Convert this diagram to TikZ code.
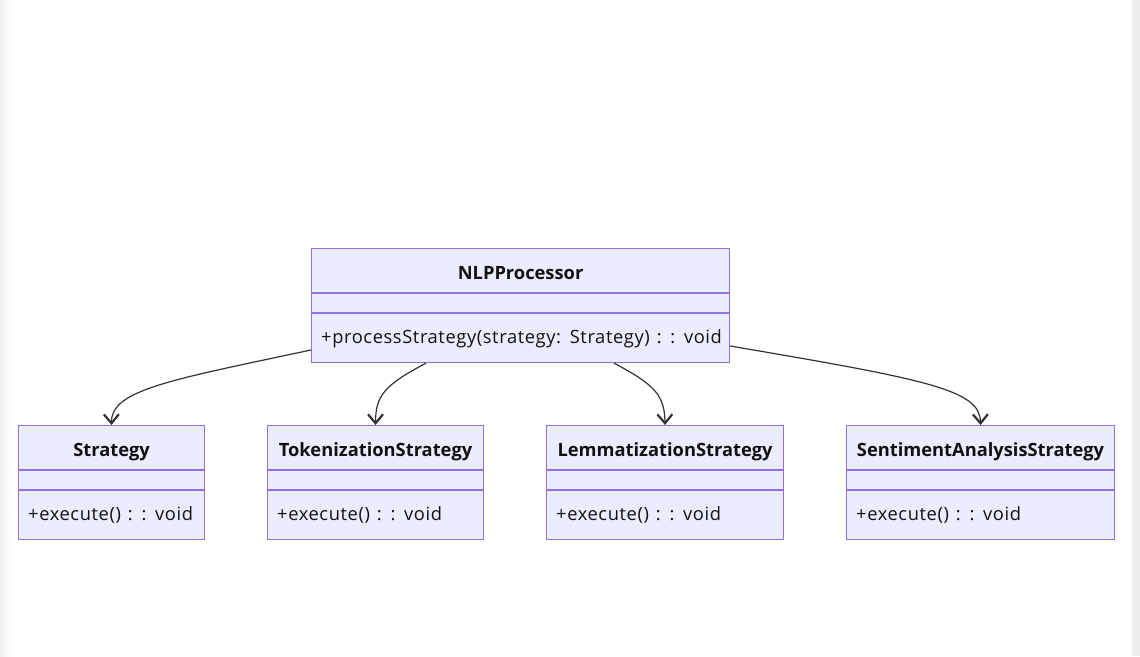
\documentclass[tikz,border=0pt]{standalone}
\usepackage{fontspec}
\setmainfont{Open Sans}
\usetikzlibrary{arrows.meta}
\definecolor{boxfill}{HTML}{ECECFF}
\definecolor{boxline}{HTML}{9370DB}
\definecolor{edgecol}{HTML}{333333}
\definecolor{txtcol}{HTML}{111111}
\newfontfamily\methfont[LetterSpace=3.3, WordSpace={1.3,1,1}]{Open Sans}
\tikzset{
  classbox/.style={draw=boxline, fill=boxfill, line width=1.1pt, inner sep=0pt, anchor=north west, minimum height=114pt},
  divline/.style={draw=boxline, line width=1.1pt},
  titletext/.style={font=\fontsize{18.3}{22}\selectfont\bfseries, text=txtcol, inner sep=0pt, anchor=base},
  methtext/.style={font=\methfont\fontsize{18.3}{22}\selectfont, text=txtcol, inner sep=0pt, anchor=base west},
  conn/.style={draw=edgecol, line width=1.2pt, -{Straight Barb[length=9pt,width=15pt,line width=2.2pt]}}
}
\newcommand{\umlclassbox}[6]{%
  \node[classbox, minimum width=#4pt] (#1) at (#2,#3) {};
  \draw[divline] ([yshift=-45pt]#1.north west) -- ([yshift=-45pt]#1.north east);
  \draw[divline] ([yshift=-65pt]#1.north west) -- ([yshift=-65pt]#1.north east);
  \node[titletext] (#1-title) at ([yshift=-31pt]#1.north) {#5};
  \node[methtext] (#1-meth) at ([xshift=10pt,yshift=-95.5pt]#1.north west) {#6};
}
\begin{document}
\begin{tikzpicture}[x=1pt,y=-1pt]
  \useasboundingbox (0,0) rectangle (1140,656);
  \fill[white] (0,0) rectangle (1140,656);
  \shade[left color=black!6, right color=white] (0,0) rectangle (12,656);
  \fill[black!7] (1132,0) rectangle (1140,656);

  \umlclassbox{nlp}{311}{248}{418}{NLPProcessor}{+processStrategy(strategy: Strategy) : : void}
  \umlclassbox{strat}{18}{425}{186}{Strategy}{+execute() : : void}
  \umlclassbox{tok}{267}{425}{216}{TokenizationStrategy}{+execute() : : void}
  \umlclassbox{lem}{546}{425}{237}{LemmatizationStrategy}{+execute() : : void}
  \umlclassbox{sent}{846}{425}{268}{SentimentAnalysisStrategy}{+execute() : : void}

  \draw[conn] ([yshift=-102pt]nlp.north west) .. controls (170,380) and (111,390) .. (strat.north);
  \draw[conn] ([xshift=115pt]nlp.south west) .. controls (385,385) and (375.5,395) .. (tok.north);
  \draw[conn] ([xshift=303pt]nlp.south west) .. controls (655,385) and (664.5,395) .. (lem.north);
  \draw[conn] ([yshift=-98pt]nlp.north east) .. controls (930,380) and (980,390) .. (sent.north);
\end{tikzpicture}
\end{document}
